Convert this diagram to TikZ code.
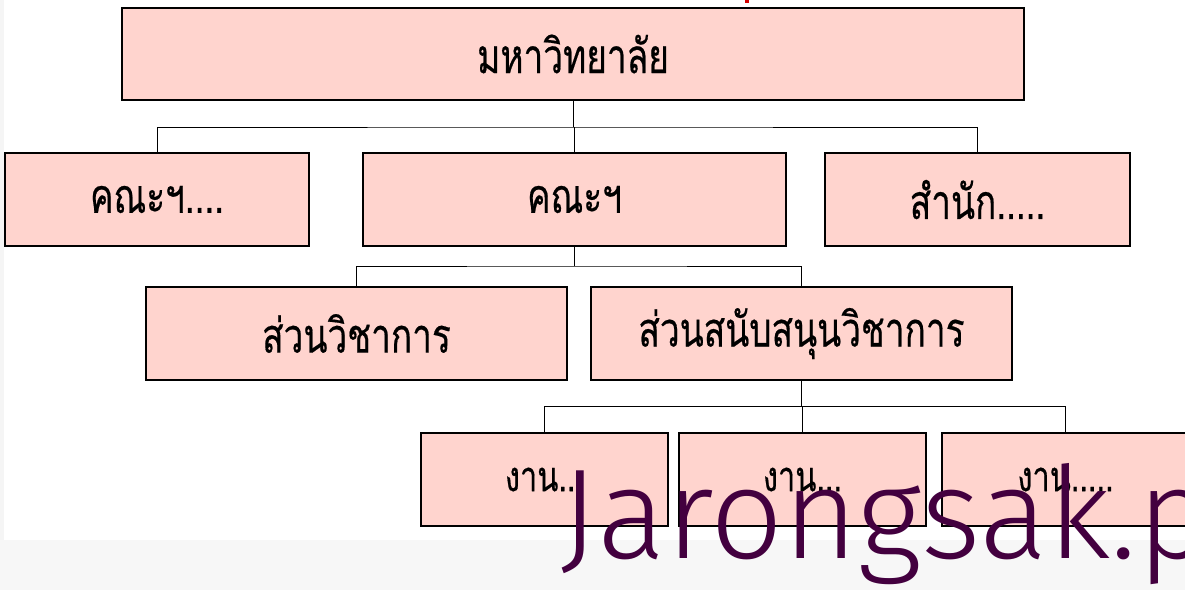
\documentclass[tikz,border=0pt]{standalone}
\usepackage{fontspec}
\newfontfamily\thai[Script=Thai,FakeStretch=0.733,FakeBold=0.4]{Loma}
\newfontfamily\wmfont{Fira Sans}[UprightFont=* Light]
\definecolor{boxfill}{HTML}{FFD4CE}
\definecolor{wmcol}{HTML}{43003F}
\definecolor{redmark}{HTML}{D40000}
\newcommand{\dn}[1]{\raisebox{-4pt}{#1}}
\begin{document}
\begin{tikzpicture}[x=1pt,y=-1pt,
  orgbox/.style={draw=black,line width=1.5pt,fill=boxfill,rectangle,inner sep=0pt,minimum height=93pt,font=\thai\fontsize{48}{52}\selectfont},
  smallbox/.style={orgbox,font=\thai\fontsize{42}{46}\selectfont},
  conn/.style={draw=black,line width=1pt}]
\useasboundingbox (0,0) rectangle (1185,590);
\clip (0,0) rectangle (1185,590);
\fill[white] (0,0) rectangle (1185,590);
\fill[black!4] (0,0) rectangle (4,540);
\fill[black!3] (0,540) rectangle (1185,590);
\fill[redmark] (745,0) rectangle (749,3);
% boxes
\node[orgbox,minimum width=902pt,minimum height=92pt] (U) at (573,54) {\dn{มหาวิทยาลัย}};
\node[orgbox,minimum width=304pt] (A) at (157,199.5) {\dn{คณะฯ....}};
\node[orgbox,minimum width=423pt] (B) at (574.5,199.5) {\dn{คณะฯ}};
\node[orgbox,minimum width=305pt] (C) at (977.5,199.5) {\dn{สำนัก.....}};
\node[orgbox,minimum width=421pt] (D) at (356.5,333.5) {\dn{ส่วนวิชาการ}};
\node[orgbox,minimum width=421pt] (E) at (801.5,333.5) {\dn{ส่วนสนับสนุนวิชาการ}};
\node[smallbox,minimum width=247pt] (F) at (544.5,479.5) {งาน...};
\node[smallbox,minimum width=247pt] (G) at (802.5,479.5) {งาน...};
\node[smallbox,minimum width=247pt] (H) at (1065.5,479.5) {งาน.....};
% connectors
\coordinate (b1) at (573,127);
\coordinate (b2) at (575,266);
\coordinate (b3) at (801.5,406);
\draw[conn] (U.south) -- (b1);
\draw[conn] (A.north) |- (b1) -| (C.north);
\draw[conn] (B.north) -- (B.north |- b1);
\draw[conn] (B.south) -- (B.south |- b2);
\draw[conn] (D.north) |- (b2) -| (E.north);
\draw[conn] (E.south) -- (b3);
\draw[conn] (F.north) |- (b3) -| (H.north);
\draw[conn] (G.north) -- (G.north |- b3);
% watermark
\node[anchor=base west,inner sep=0pt,text=wmcol,font=\wmfont\fontsize{128}{130}\selectfont] (wm) at (560,558) {Jarongsak.p};
\end{tikzpicture}
\end{document}
